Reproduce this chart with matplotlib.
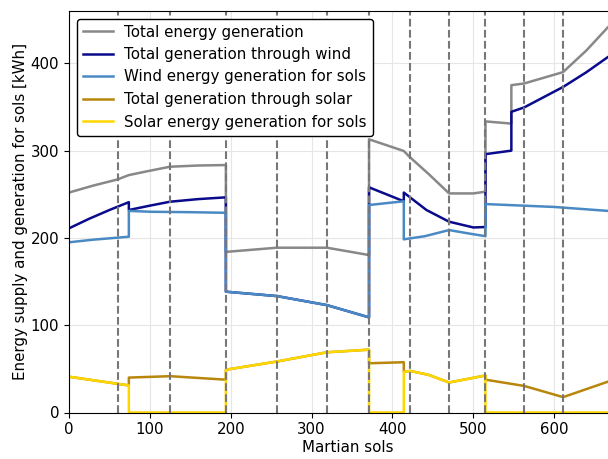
import matplotlib
matplotlib.use("Agg")
import matplotlib.pyplot as plt

plt.rcParams['font.size'] = 10.8

# sol boundaries marked with dashed lines
boundaries = [60, 125, 194, 257, 319, 371, 422, 470, 515, 563, 611]

# total energy generation
total_x = [0, 30, 60, 74, 100, 125, 160, 194, 194, 257, 319, 371, 371, 414, 421,
           445, 470, 500, 515, 515, 547, 547, 563, 611, 640, 666, 690]
total_y = [252, 260, 267, 272, 277, 281.6, 283, 283.5, 184, 188.8, 188.8, 180.4, 313, 299.6, 293,
           273, 251, 251, 253, 333.5, 331, 375, 377, 390, 415, 441, 462]

# total generation through wind
wind_x = [0, 25, 50, 74, 74, 100, 125, 160, 194, 194, 257, 319, 371, 371, 414, 414,
          442, 470, 500, 515, 515, 547, 547, 563, 611, 640, 666, 690]
wind_y = [211, 222, 232, 241, 232, 237, 241.5, 244.5, 246.5, 138.4, 133.4, 123, 109, 258, 242, 252,
          232, 218.6, 212, 212.5, 296, 300, 344.5, 349.6, 373, 390, 407, 420]

# wind energy generation for sols
wind_sols_x = [0, 30, 74, 74, 100, 150, 194, 194, 257, 319, 371, 371, 414, 414,
               440, 470, 495, 515, 515, 600, 666, 690]
wind_sols_y = [195, 198, 201.4, 231, 230, 229.5, 228.8, 138.4, 133.4, 123, 109, 237.7, 242, 198.4,
               202, 209, 205, 202, 238.8, 235.5, 231, 229.5]

# total generation through solar
solar_x = [0, 74, 74, 125, 194, 194, 257, 319, 371, 371, 414, 414, 422,
           445, 470, 515, 515, 563, 611, 666, 690]
solar_y = [41, 31, 40, 41.6, 37.6, 49, 58.4, 69, 72, 56.4, 57.6, 46.7, 47.6,
           43, 34.4, 42.4, 37.6, 30.4, 17.6, 35.2, 42]

# solar energy generation for sols
solar_sols_x = [0, 74, 74, 194, 194, 257, 319, 371, 371, 414, 414, 422,
                445, 470, 515, 515, 690]
solar_sols_y = [41, 31, 0, 0, 49, 58.4, 69, 72, 0, 0, 46.7, 47.6,
                43, 34.4, 42.4, 0, 0]

fig = plt.figure(figsize=(6.08, 4.59), dpi=100)
ax = fig.add_axes([69 / 608, 46.5 / 459, 558 / 608, 401.5 / 459])

ax.plot(total_x, total_y, color='#888888', lw=1.8, label='Total energy generation')
ax.plot(wind_x, wind_y, color='#0a0a8c', lw=1.8, label='Total generation through wind')
ax.plot(wind_sols_x, wind_sols_y, color='#4a8ac4', lw=1.8, label='Wind energy generation for sols')
ax.plot(solar_x, solar_y, color='#b8860b', lw=1.8, label='Total generation through solar')
ax.plot(solar_sols_x, solar_sols_y, color='#ffd700', lw=1.8, label='Solar energy generation for sols')

for b in boundaries:
    ax.axvline(b, color='#777777', linestyle='--', lw=1.5)

ax.set_xlim(0, 690)
ax.set_ylim(0, 460)
ax.set_xticks([0, 100, 200, 300, 400, 500, 600])
ax.set_yticks([0, 100, 200, 300, 400])
ax.grid(True, color='#e6e6e6', lw=0.8)
ax.set_axisbelow(True)
ax.set_xlabel('Martian sols', labelpad=2)
ax.set_ylabel('Energy supply and generation for sols [kWh]', labelpad=2)

leg = ax.legend(loc='upper left', framealpha=1, fancybox=True)
leg.get_frame().set_edgecolor('black')

plt.savefig('out.png', dpi=100)
